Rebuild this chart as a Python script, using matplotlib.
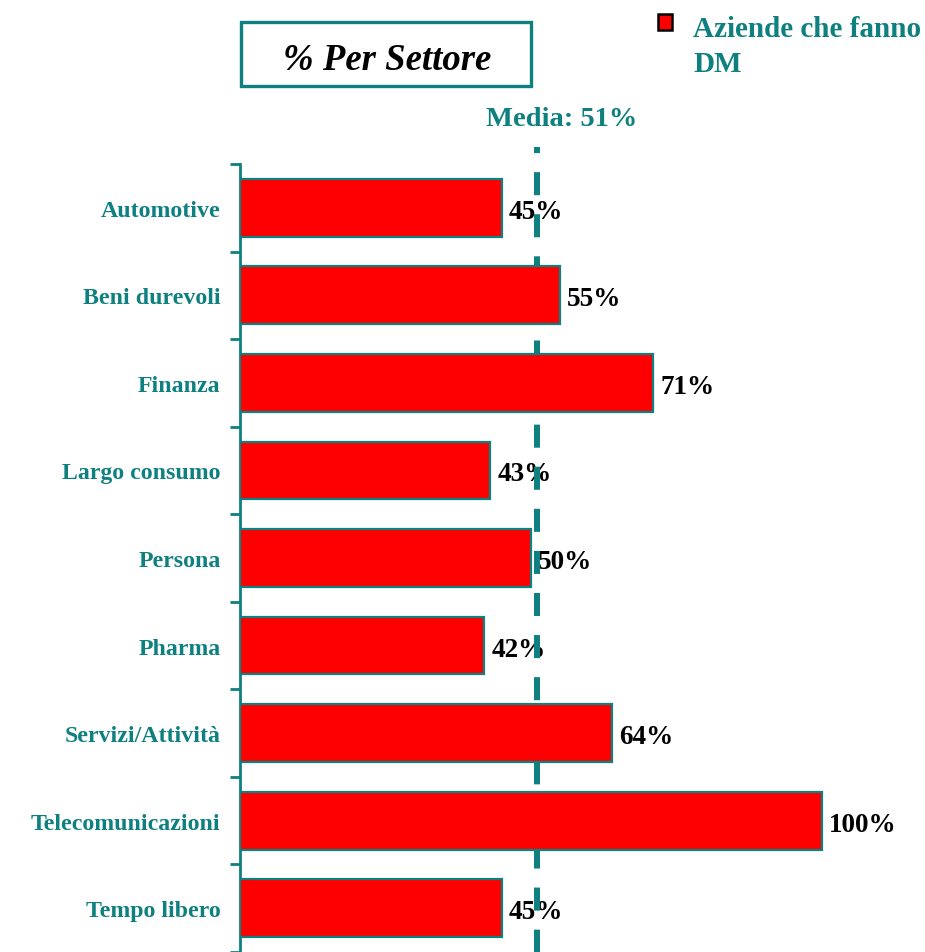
import matplotlib
matplotlib.use("Agg")
import matplotlib.pyplot as plt
from matplotlib.patches import Rectangle

categories = ["Automotive", "Beni durevoli", "Finanza", "Largo consumo", "Persona",
              "Pharma", "Servizi/Attività", "Telecomunicazioni", "Tempo libero"]
values = [45, 55, 71, 43, 50, 42, 64, 100, 45]
media = 51
title = "% Per Settore"
legend_lines = ["Aziende che fanno", "DM"]

TEAL = "#0E8080"
SERIF = ["Liberation Serif", "DejaVu Serif"]
plt.rcParams["lines.scale_dashes"] = False

W, H = 925, 953
fig = plt.figure(figsize=(W / 100, H / 100), dpi=100)

def fx(px):
    return px / W

def fy(py):
    return 1 - py / H

ax_left, ax_top, ax_bottom = 240, 165, 953
xmax = 110
ax_right = 240 + xmax * 5.82
ax = fig.add_axes([fx(ax_left), fy(ax_bottom), fx(ax_right) - fx(ax_left), fy(ax_top) - fy(ax_bottom)])

n = len(categories)
ypos = list(range(n))
ax.barh(ypos, values, height=0.66, color="#FF0000", edgecolor=TEAL, linewidth=1.6, zorder=3)
ax.set_xlim(0, xmax)
ax.set_ylim(n - 0.5, -0.5)

for sp in ["top", "right", "bottom"]:
    ax.spines[sp].set_visible(False)
ax.spines["left"].set_color(TEAL)
ax.spines["left"].set_linewidth(2)
ax.set_xticks([])
ax.set_yticks(ypos)
ax.set_yticklabels(categories, fontfamily=SERIF, fontweight="bold", fontsize=17.2, color=TEAL)
ax.tick_params(axis="y", which="major", length=0, pad=14)
ax.set_yticks([i - 0.5 for i in range(n + 1)], minor=True)
ax.tick_params(axis="y", which="minor", length=7, width=2, color=TEAL, direction="out")

for y, v in zip(ypos, values):
    ax.text(v + 1.2, y + 0.04, f"{v}%", va="center", ha="left", fontfamily=SERIF,
            fontweight="bold", fontsize=19.5, color="black", zorder=1)

# average line
px_per_row = (ax_bottom - ax_top) / n
top_ext = -0.5 - (ax_top - 148) / px_per_row
ax.plot([media, media], [top_ext, n - 0.5], color=TEAL, linewidth=4.3,
        clip_on=False, zorder=2, solid_capstyle="butt",
        linestyle=(12.2, (16.6, 13.7)), dash_capstyle="butt")

fig.text(fx(562), fy(119), f"Media: {media}%", ha="center", va="center", fontfamily=SERIF,
         fontweight="bold", fontsize=20.5, color=TEAL)

# title box
fig.patches.append(Rectangle((fx(241), fy(87)), fx(531) - fx(241), fy(23) - fy(87),
                             transform=fig.transFigure, fill=False, edgecolor=TEAL, linewidth=2.4))
fig.text(fx(387), fy(60), title, ha="center", va="center", fontfamily=SERIF,
         fontweight="bold", fontstyle="italic", fontsize=26.5, color="black")

# legend
fig.patches.append(Rectangle((fx(658), fy(31)), fx(672) - fx(658), fy(15) - fy(31),
                             transform=fig.transFigure, facecolor="#FF0000", edgecolor="black",
                             linewidth=1.8))
for i, line in enumerate(legend_lines):
    fig.text(fx(693), fy(37 + 35 * i), line, ha="left", va="baseline", fontfamily=SERIF,
             fontweight="bold", fontsize=21, color=TEAL)

fig.savefig("out.png", dpi=100)
